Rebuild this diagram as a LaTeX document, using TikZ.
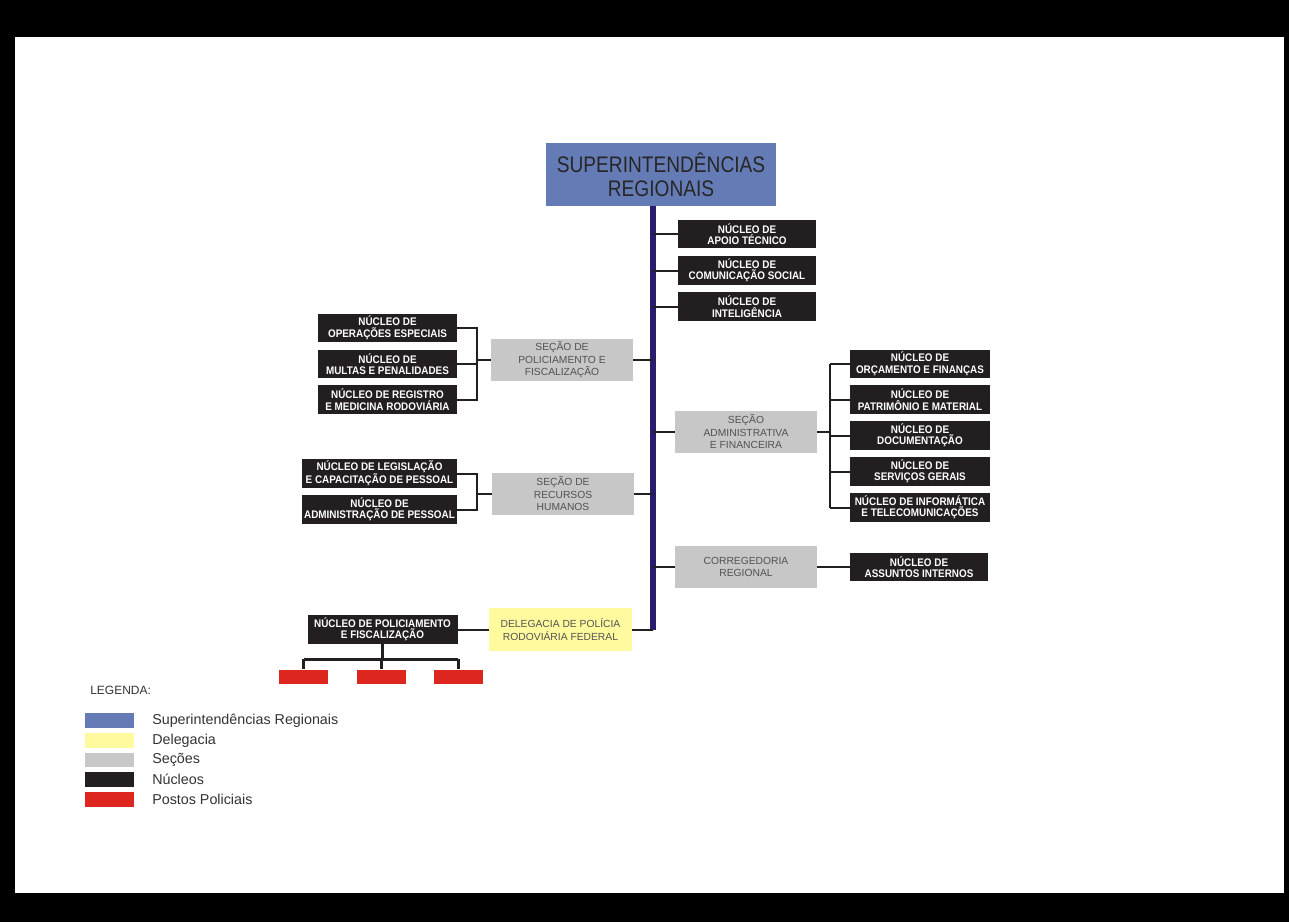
\documentclass[tikz,border=0pt]{standalone}
\usepackage{fontspec}
\setmainfont{Liberation Sans}
\newfontfamily\titlefont[FakeStretch=0.85]{Liberation Sans}
\newfontfamily\boxfont[FakeStretch=0.9]{Liberation Sans}
\usepackage{tikz}

\definecolor{supblue}{RGB}{101,123,181}
\definecolor{delyellow}{RGB}{255,250,158}
\definecolor{secgray}{RGB}{199,199,199}
\definecolor{nucblack}{RGB}{35,31,32}
\definecolor{postred}{RGB}{221,39,30}
\definecolor{barnavy}{RGB}{40,28,108}
\definecolor{sectext}{RGB}{82,82,82}

\begin{document}
\begin{tikzpicture}[x=1pt,y=-1pt,semithick]
        \tikzstyle{supnode}=[
            rectangle,
            fill=supblue,
            text=black!85,
            inner sep=0pt,
            minimum width=230,
            minimum height=63,
            align=center,
            font=\titlefont\fontsize{22.5}{24}\selectfont
        ]
        \tikzstyle{nucleo}=[
            rectangle,
            fill=nucblack,
            text=white,
            inner sep=0pt,
            minimum width=138,
            minimum height=28.5,
            align=center,
            font=\boxfont\bfseries\fontsize{11}{11.5}\selectfont
        ]
        \tikzstyle{secao}=[
            rectangle,
            fill=secgray,
            text=sectext,
            inner sep=0pt,
            minimum width=142,
            minimum height=42,
            align=center,
            font=\fontsize{10.3}{12.5}\selectfont
        ]
        \tikzstyle{posto}=[rectangle, fill=postred, inner sep=0pt, minimum width=49, minimum height=14]
        \tikzstyle{swatch}=[rectangle, inner sep=0pt, minimum width=49, minimum height=14.5]
        \tikzstyle{legtext}=[anchor=west, inner sep=0pt, text=black!80, font=\fontsize{14.3}{16}\selectfont]
        \tikzstyle{conn}=[draw=nucblack, line width=2]

        % moldura
        \useasboundingbox (0,0) rectangle (1289,922);
        \fill[black] (0,0) rectangle (1289,922);
        \fill[white] (15,37) rectangle (1284,893);

        \node[supnode] (sup) at (661,174.5){SUPERINTENDÊNCIAS\\REGIONAIS};
        \coordinate (bar) at (653,206);

        \node[nucleo] (apoio) at (747,234){NÚCLEO DE\\APOIO TÉCNICO};
        \node[nucleo] (comunic) at (747,270.5){NÚCLEO DE\\COMUNICAÇÃO SOCIAL};
        \node[nucleo] (intel) at (747,306.5){NÚCLEO DE\\INTELIGÊNCIA};

        \node[secao] (secPol) at (562,360){SEÇÃO DE\\POLICIAMENTO E\\FISCALIZAÇÃO};
        \node[nucleo, minimum width=139] (opEsp) at (387.5,328){NÚCLEO DE\\OPERAÇÕES ESPECIAIS};
        \node[nucleo, minimum width=139] (multas) at (387.5,364){NÚCLEO DE\\MULTAS E PENALIDADES};
        \node[nucleo, minimum width=139] (registro) at (387.5,399.5){NÚCLEO DE REGISTRO\\E MEDICINA RODOVIÁRIA};

        \node[secao] (secAdm) at (746,432){SEÇÃO\\ADMINISTRATIVA\\E FINANCEIRA};
        \node[nucleo, minimum width=140] (orc) at (920,364){NÚCLEO DE\\ORÇAMENTO E FINANÇAS};
        \node[nucleo, minimum width=140] (patr) at (920,399.5){NÚCLEO DE\\PATRIMÔNIO E MATERIAL};
        \node[nucleo, minimum width=140] (doc) at (920,435.5){NÚCLEO DE\\DOCUMENTAÇÃO};
        \node[nucleo, minimum width=140] (serv) at (920,471.5){NÚCLEO DE\\SERVIÇOS GERAIS};
        \node[nucleo, minimum width=140] (info) at (920,507.5){NÚCLEO DE INFORMÁTICA\\E TELECOMUNICAÇÕES};

        \node[secao] (secRH) at (563,494){SEÇÃO DE\\RECURSOS\\HUMANOS};
        \node[nucleo, minimum width=155] (legis) at (379.5,473.5){NÚCLEO DE LEGISLAÇÃO\\E CAPACITAÇÃO DE PESSOAL};
        \node[nucleo, minimum width=155] (admPes) at (379.5,509.5){NÚCLEO DE\\ADMINISTRAÇÃO DE PESSOAL};

        \node[secao] (corr) at (746,567){CORREGEDORIA\\REGIONAL};
        \node[nucleo] (assInt) at (919,567){NÚCLEO DE\\ASSUNTOS INTERNOS};

        \node[secao, fill=delyellow, minimum width=143, minimum height=43] (deleg) at (560.5,629.5){DELEGACIA DE POLÍCIA\\RODOVIÁRIA FEDERAL};
        \node[nucleo, minimum width=150] (nucPol) at (382.5,629.5){NÚCLEO DE POLICIAMENTO\\E FISCALIZAÇÃO};

        \node[posto] (post1) at (303.5,676.5){};
        \node[posto] (post2) at (381,676.5){};
        \node[posto] (post3) at (458,676.5){};

        % tronco
        \draw[barnavy, line width=6] (bar) -- (bar |- deleg.east);
        \draw[conn] (bar |- deleg.east) -- (deleg.east);
        \foreach \n in {apoio,comunic,intel,secAdm,corr}
            \draw[conn] (\n.west -| bar) -- (\n.west);
        \foreach \n in {secPol,secRH}
            \draw[conn] (\n.east) -- (\n.east -| bar);

        % chaves
        \coordinate (brPol) at (477,360);
        \coordinate (brRH) at (477,494);
        \coordinate (brAdm) at (830,432);
        \draw[conn] (opEsp.east) -| (brPol) |- (registro.east);
        \draw[conn] (multas.east) -- (multas.east -| brPol);
        \draw[conn] (brPol) -- (secPol.west);
        \draw[conn] (legis.east) -| (brRH) |- (admPes.east);
        \draw[conn] (brRH) -- (secRH.west);
        \draw[conn] (secAdm.east) -- (brAdm);
        \draw[conn] (orc.west -| brAdm) -- (info.west -| brAdm);
        \foreach \n in {orc,patr,doc,serv,info}
            \draw[conn] (\n.west -| brAdm) -- (\n.west);
        \draw[conn] (corr.east) -- (assInt.west);
        \draw[conn] (nucPol.east) -- (deleg.west);

        % postos
        \coordinate (treeMid) at (382,659);
        \draw[nucblack, line width=3] (nucPol.south) -- (nucPol.south |- treeMid);
        \draw[nucblack, line width=3] (post1.north |- treeMid) -- (post3.north |- treeMid);
        \foreach \p in {post1,post2,post3}
            \draw[nucblack, line width=3] (\p.north |- treeMid) -- (\p.north);

        % legenda
        \node[anchor=west, inner sep=0pt, text=black!80, font=\fontsize{12}{14}\selectfont] (leg) at (90,690){LEGENDA:};
        \node[swatch, fill=supblue] (sw1) at (109.5,720.5){};
        \node[swatch, fill=delyellow] (sw2) at (109.5,740.3){};
        \node[swatch, fill=secgray] (sw3) at (109.5,760){};
        \node[swatch, fill=nucblack] (sw4) at (109.5,779.7){};
        \node[swatch, fill=postred] (sw5) at (109.5,799.7){};
        \node[legtext] (lt1) at (152,720.5){Superintendências Regionais};
        \node[legtext] (lt2) at (152,740.3){Delegacia};
        \node[legtext] (lt3) at (152,760){Seções};
        \node[legtext] (lt4) at (152,779.7){Núcleos};
        \node[legtext] (lt5) at (152,799.7){Postos Policiais};
\end{tikzpicture}
\end{document}
